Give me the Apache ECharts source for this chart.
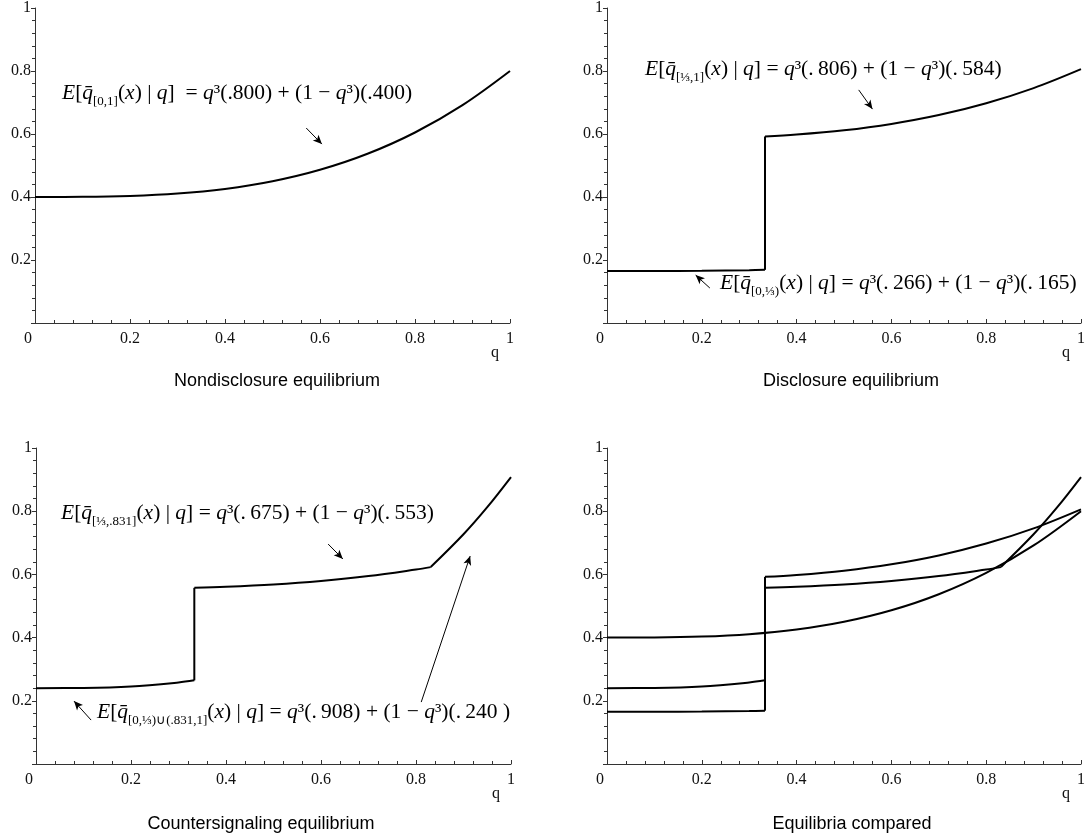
<!DOCTYPE html>
<html>
<head>
<meta charset="utf-8">
<script src="https://cdn.jsdelivr.net/npm/echarts@6/dist/echarts.min.js"></script>
<style>
  html, body { margin: 0; padding: 0; background: #fff; }
  #main { width: 1088px; height: 838px; }
</style>
</head>
<body>
<div id="main"></div>
<script>
// values
const tickLabels = [ '0', '0.2', '0.4', '0.6', '0.8', '1' ];
const panelTitles = [ 'Nondisclosure equilibrium', 'Disclosure equilibrium', 'Countersignaling equilibrium', 'Equilibria compared' ];

const qFull = [ 0, 0.1, 0.2, 0.3, 0.4, 0.5, 0.6, 0.7, 0.8, 0.9, 1 ];
const nondisclosure = [ 0.4, 0.4004, 0.4032, 0.4108, 0.4256, 0.45, 0.4864, 0.5372, 0.6048, 0.6916, 0.8 ];

const qLow = [ 0, 0.1, 0.2, 0.3, 0.3333 ];
const disclosureLow = [ 0.165, 0.1651, 0.1658, 0.1677, 0.1687 ];
const qHigh = [ 0.3333, 0.4, 0.5, 0.6, 0.7, 0.8, 0.9, 1 ];
const disclosureHigh = [ 0.5922, 0.5982, 0.6118, 0.632, 0.6601, 0.6977, 0.7458, 0.806 ];

const counterLow = [ 0.24, 0.2407, 0.2453, 0.258, 0.2647 ];
const qMid = [ 0.3333, 0.4, 0.5, 0.6, 0.7, 0.8, 0.831 ];
const counterMid = [ 0.5575, 0.5608, 0.5683, 0.5794, 0.5948, 0.6155, 0.623 ];
const qTop = [ 0.831, 0.9, 0.95, 1 ];
const counterTop = [ 0.6233, 0.727, 0.8127, 0.908 ];

// arrows: [panel, tail, head] in data units
const arrows = [
	[ 0, [ 0.571, 0.619 ], [ 0.604, 0.568 ] ],
	[ 1, [ 0.531, 0.74 ], [ 0.56, 0.679 ] ],
	[ 1, [ 0.217, 0.111 ], [ 0.187, 0.152 ] ],
	[ 2, [ 0.615, 0.696 ], [ 0.646, 0.649 ] ],
	[ 2, [ 0.116, 0.139 ], [ 0.08, 0.199 ] ],
	[ 2, [ 0.811, 0.196 ], [ 0.914, 0.658 ] ]
];

const pairs = ( xs, ys ) => xs.map( ( x, i ) => [ x, ys[ i ] ] );

const curves = {
	nondisclosure: [ pairs( qFull, nondisclosure ) ],
	disclosure: [ pairs( qLow, disclosureLow ), pairs( qHigh, disclosureHigh ) ],
	counter: [ pairs( qLow, counterLow ), pairs( qMid, counterMid ), pairs( qTop, counterTop ) ]
};

const grids = [
	{ left: 35, top: 8, width: 475, height: 315 },
	{ left: 607, top: 8, width: 475, height: 315 },
	{ left: 36, top: 448, width: 475, height: 316 },
	{ left: 607, top: 448, width: 474, height: 316 }
];

const axisColor = '#333';
const labelColor = '#111';
const serif = 'Liberation Serif';

function curveSeries( gridIndex, segments ) {
	const out = [];
	segments.forEach( ( seg, k ) => {
		out.push( {
			type: 'line', xAxisIndex: gridIndex, yAxisIndex: gridIndex,
			data: seg, smooth: 0.35, showSymbol: false, silent: true,
			lineStyle: { color: '#000', width: 2 }
		} );
		if ( k > 0 ) {
			// vertical jump between pieces
			const prev = segments[ k - 1 ];
			out.push( {
				type: 'line', xAxisIndex: gridIndex, yAxisIndex: gridIndex,
				data: [ prev[ prev.length - 1 ], seg[ 0 ] ], showSymbol: false, silent: true,
				lineStyle: { color: '#000', width: 2 }
			} );
		}
	} );
	return out;
}

const series = [];
series.push( ...curveSeries( 0, curves.nondisclosure ) );
series.push( ...curveSeries( 1, curves.disclosure ) );
series.push( ...curveSeries( 2, curves.counter ) );
series.push( ...curveSeries( 3, curves.nondisclosure ) );
series.push( ...curveSeries( 3, curves.disclosure ) );
series.push( ...curveSeries( 3, curves.counter ) );

// arrows drawn as markLines on an empty series per panel
[ 0, 1, 2 ].forEach( g => {
	series.push( {
		type: 'line', xAxisIndex: g, yAxisIndex: g, data: [], silent: true,
		markLine: {
			silent: true, animation: false,
			symbol: [ 'none', 'arrow' ], symbolSize: [ 6, 9 ],
			label: { show: false },
			lineStyle: { color: '#000', width: 1, type: 'solid' },
			data: arrows.filter( a => a[ 0 ] === g ).map( a => [ { coord: a[ 1 ] }, { coord: a[ 2 ] } ] )
		}
	} );
} );

const xAxes = grids.map( ( g, i ) => ( {
	gridIndex: i, type: 'value', min: 0, max: 1, interval: 0.2,
	axisLine: { lineStyle: { color: axisColor, width: 1 } },
	axisTick: { inside: true, length: 4, lineStyle: { color: axisColor } },
	minorTick: { show: true, splitNumber: 5, length: 3, lineStyle: { color: axisColor } },
	splitLine: { show: false },
	axisLabel: {
		fontFamily: serif, fontSize: 16, color: labelColor, margin: 8,
		formatter: v => {
			const t = tickLabels[ Math.round( v / 0.2 ) ];
			return v === 0 ? '{z|' + t + '}' : t;
		},
		rich: { z: { fontFamily: serif, fontSize: 16, color: labelColor, padding: [ 0, 14, 0, 0 ] } }
	},
	name: 'q', nameLocation: 'end', nameGap: -19,
	nameTextStyle: { fontFamily: serif, fontSize: 16, color: labelColor, verticalAlign: 'top', padding: [ 22, 0, 0, 0 ] }
} ) );

const yAxes = grids.map( ( g, i ) => ( {
	gridIndex: i, type: 'value', min: 0, max: 1, interval: 0.2,
	axisLine: { lineStyle: { color: axisColor, width: 1 } },
	axisTick: { length: 4, lineStyle: { color: axisColor } },
	minorTick: { show: true, splitNumber: 5, length: 3, lineStyle: { color: axisColor } },
	splitLine: { show: false },
	axisLabel: {
		fontFamily: serif, fontSize: 16, color: labelColor, margin: 4, showMinLabel: false,
		formatter: v => tickLabels[ Math.round( v / 0.2 ) ]
	}
} ) );

const titleCenters = [ [ 272, 367 ], [ 846, 367 ], [ 256, 810 ], [ 847, 810 ] ];
const titles = panelTitles.map( ( t, i ) => ( {
	text: t, left: titleCenters[ i ][ 0 ], top: titleCenters[ i ][ 1 ], textAlign: 'center',
	textStyle: { fontFamily: 'Liberation Sans', fontSize: 18, fontWeight: 'normal', color: '#000' }
} ) );

const eqSize = 21.5;
const rich = {
	i: { fontFamily: serif, fontStyle: 'italic', fontSize: eqSize, lineHeight: 30, fill: '#000' },
	s: { fontFamily: serif, fontSize: 13, verticalAlign: 'bottom', fill: '#000' }
};
function eq( x, y, text ) {
	return {
		type: 'text', x: x, y: y, silent: true,
		style: { text: text, rich: rich, fontFamily: serif, fontSize: eqSize, lineHeight: 30, fill: '#000', verticalAlign: 'middle' }
	};
}
const ts = '\u2009';
const equations = [
	eq( 62, 93, '{i|E}[{i|q\u0304}{s|[0,1]}({i|x}) | {i|q}]  = {i|q}³(.800) + (1 − {i|q}³)(.400)' ),
	eq( 645, 69, '{i|E}[{i|q\u0304}{s|[⅓,1]}({i|x}) | {i|q}] = {i|q}³(.' + ts + '806) + (1 − {i|q}³)(.' + ts + '584)' ),
	eq( 720, 283, '{i|E}[{i|q\u0304}{s|[0,⅓)}({i|x}) | {i|q}] = {i|q}³(.' + ts + '266) + (1 − {i|q}³)(.' + ts + '165)' ),
	eq( 61, 513, '{i|E}[{i|q\u0304}{s|[⅓,.831]}({i|x}) | {i|q}] = {i|q}³(.' + ts + '675) + (1 − {i|q}³)(.' + ts + '553)' ),
	eq( 97, 712, '{i|E}[{i|q\u0304}{s|[0,⅓)∪(.831,1]}({i|x}) | {i|q}] = {i|q}³(.' + ts + '908) + (1 − {i|q}³)(.' + ts + '240 )' )
];

const chart = echarts.init( document.getElementById( 'main' ), null, { renderer: 'canvas' } );
chart.setOption( {
	animation: false,
	backgroundColor: '#fff',
	title: titles,
	grid: grids,
	xAxis: xAxes,
	yAxis: yAxes,
	series: series,
	graphic: equations
} );
</script>
</body>
</html>
